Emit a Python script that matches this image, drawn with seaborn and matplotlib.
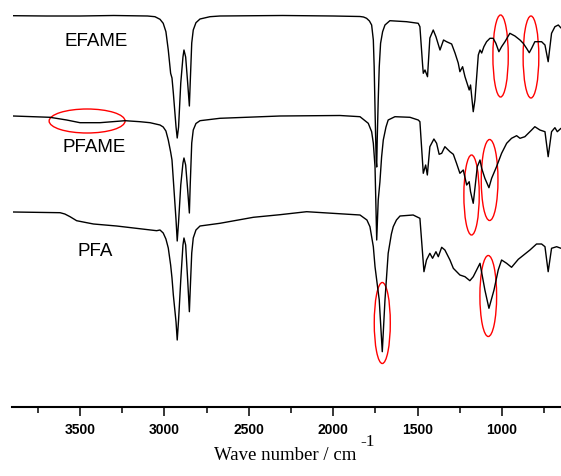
import pandas as pd
import numpy as np
import matplotlib
matplotlib.use('Agg')
import matplotlib.pyplot as plt
from matplotlib.patches import Ellipse
import seaborn as sns

# spectra: (wavenumber, relative transmittance)
efame = [(3900, 100.3), (3700, 100), (3500, 100), (3300, 100.5), (3100, 100), (3056, 99.3),
         (3026, 96.7), (3007, 92.7), (2991, 84.3), (2977, 66), (2963, 42.7), (2955, 38), (2947, 23),
         (2931, -11), (2924, -22), (2916, -11), (2903, 33), (2890, 59), (2884, 66), (2874, 59),
         (2862, 33), (2852, 10), (2847, 33), (2838, 73), (2829, 86), (2813, 93.3), (2789, 97),
         (2730, 99.3), (2671, 100), (2300, 100.5), (2000, 100), (1841, 99.5), (1820, 99),
         (1802, 97.7), (1785, 95), (1772, 91), (1762, 76), (1757, 49.3), (1751, -1), (1745, -45),
         (1742, -51), (1739, -24), (1733, 16), (1727, 49), (1719, 72.7), (1707, 84.3), (1693, 91),
         (1664, 95.3), (1565, 94.3), (1496, 92.7), (1486, 89.3),
         (1470, 51), (1466, 42.7), (1456, 46), (1441, 39.3), (1427, 78), (1407, 86), (1391, 79.3),
         (1367, 66), (1346, 76), (1328, 74.3), (1298, 72), (1278, 63), (1259, 53), (1249, 44.3),
         (1233, 49.3), (1219, 39.3), (1200, 29.3), (1194, 26), (1186, 31), (1170, 4.3), (1160, 16),
         (1140, 61), (1130, 66), (1120, 63), (1107, 69.3), (1091, 74.3), (1071, 77.7), (1052, 77.7),
         (1036, 72.7), (1018, 64.3), (1002, 69.3), (982, 74.3), (953, 82.7), (923, 80), (893, 76),
         (874, 72.7), (854, 67.7), (838, 63.3), (824, 67.7), (805, 74.3), (765, 74.3), (745, 71),
         (726, 54.3), (706, 82.7), (686, 89.3), (666, 91), (650, 88)]

pfame = [(3897, 100), (3678, 98.7), (3579, 96), (3500, 93.3), (3382, 93.3), (3233, 95.3),
         (3145, 94.3), (3085, 93.3), (3026, 91), (3007, 89), (2991, 85), (2977, 76), (2963, 64),
         (2955, 56), (2947, 36), (2931, -4), (2924, -25), (2916, -6), (2903, 31), (2890, 53),
         (2884, 58), (2874, 51), (2862, 26), (2852, 3), (2847, 31), (2838, 73), (2829, 86),
         (2813, 92.5), (2789, 95.3), (2671, 97.7),
         (2315, 100), (1960, 100.5), (1841, 99.3), (1792, 92.7), (1772, 84.3), (1762, 72.7),
         (1752, 49.3), (1742, -24), (1733, 16), (1723, 34), (1713, 59), (1703, 76), (1687, 89),
         (1674, 96), (1634, 99.3), (1545, 98.7),
         (1496, 96), (1486, 94.3), (1466, 42.7), (1452, 51), (1442, 41), (1427, 69.3), (1403, 77),
         (1387, 72.7), (1372, 61.7), (1357, 62.7), (1338, 69.3), (1308, 64.3), (1288, 61.7),
         (1269, 52.7), (1249, 42.7), (1229, 46), (1209, 31), (1194, 34.3), (1186, 24.3),
         (1170, 12.7), (1160, 27.7), (1146, 49.3), (1130, 56), (1120, 47.7), (1101, 37.7),
         (1077, 28.3), (1061, 37.7), (1032, 49.3), (1002, 62.7), (972, 72.7), (943, 77.7),
         (913, 80.3), (893, 77.7), (864, 79.3), (824, 86), (805, 89.3), (775, 86), (745, 84.3),
         (726, 59.3), (706, 84.3), (686, 88.3), (672, 84.3), (650, 87.7)]

pfa = [(3897, 100), (3618, 99.3), (3590, 98), (3559, 95.3), (3520, 91.3), (3460, 89.3),
       (3420, 88), (3283, 86), (3046, 81.3), (3026, 82), (3007, 79), (2991, 73), (2977, 64),
       (2963, 47), (2955, 34), (2947, 17), (2931, -10), (2924, -28), (2916, -8), (2903, 32),
       (2890, 67), (2884, 74), (2874, 67), (2862, 32), (2852, 0.3), (2847, 22), (2838, 59),
       (2829, 74), (2813, 82), (2789, 86), (2671, 88.7), (2473, 94.7), (2315, 97.3), (2157, 100.3),
       (1841, 97), (1800, 92), (1782, 85.3), (1762, 65.3), (1752, 45.3), (1727, 12), (1709, -39.7),
       (1693, 12), (1674, 58.7), (1655, 78), (1644, 85.3), (1625, 92), (1604, 96), (1526, 97),
       (1486, 93.7), (1462, 40.3), (1447, 52), (1427, 58.7),
       (1411, 53.7), (1391, 60.3), (1377, 55.3), (1357, 64.7), (1338, 62), (1308, 52), (1288, 43.7),
       (1249, 37), (1219, 35.3), (1190, 31.3), (1170, 35.3), (1130, 48.7), (1101, 22), (1077, 3.7),
       (1047, 22), (1022, 42), (1002, 52), (972, 48.7), (943, 44.7), (903, 52.7), (834, 62),
       (795, 68), (765, 68), (745, 65.3), (726, 40.3), (706, 63.7), (676, 65.3), (650, 63.7)]

samples = ['EFAME', 'PFAME', 'PFA']
offsets = [291, 191, 95]
label_pos = [(3405, 366), (3417, 259), (3408, 155)]

# marked bands: (wavenumber, level, width in cm-1, height)
marks = [(3458, 286, 450, 24), (1008, 351, 91, 82), (828, 350, 93, 82),
         (1180, 212, 91, 80), (1073, 227, 99, 81), (1709, 84, 95, 81), (1081, 111, 99, 81)]

# build long frame
frames = []
for name, spec, off in zip(samples, [efame, pfame, pfa], offsets):
    d = pd.DataFrame(spec, columns=['wavenumber', 'T'])
    d['signal'] = d['T'] + off
    d['sample'] = name
    frames.append(d)
df = pd.concat(frames, ignore_index=True)

sns.set_style('ticks')
plt.rcParams['font.family'] = ['Liberation Sans', 'DejaVu Sans']
plt.rcParams['text.color'] = 'black'
plt.rcParams['xtick.color'] = 'black'
plt.rcParams['axes.edgecolor'] = 'black'

fig = plt.figure(figsize=(5.61, 4.76), dpi=100)
ax = fig.add_axes([12.5 / 561, 1 - 407 / 476, 1 - 12.5 / 561, 407 / 476])

sns.lineplot(data=df, x='wavenumber', y='signal', hue='sample', units='sample', estimator=None,
             palette={s: 'black' for s in samples}, linewidth=1.0, legend=False, ax=ax)

for (wn, lev, w, h) in marks:
    ax.add_patch(Ellipse((wn, lev), w, h, fill=False, edgecolor='red', lw=1.0))

# sample names
for name, (lx, ly) in zip(samples, label_pos):
    ax.text(lx, ly, name, ha='center', va='center', fontsize=13.5, color='black')

ax.set_xlim(3900, 650)
ax.set_ylim(0, 407)
ax.set_xticks([3500, 3000, 2500, 2000, 1500, 1000])
ax.set_xticks([3750, 3250, 2750, 2250, 1750, 1250, 750], minor=True)
ax.set_yticks([])
ax.set_xlabel('')
ax.set_ylabel('')
for s in ['left', 'top', 'right']:
    ax.spines[s].set_visible(False)
ax.spines['bottom'].set_linewidth(1.5)
ax.tick_params(axis='x', which='major', direction='out', length=6.5, width=1.1, labelsize=10, pad=5)
ax.tick_params(axis='x', which='minor', direction='out', length=4, width=1.1)
plt.setp(ax.get_xticklabels(), fontweight='bold', color='black')

fig.text(285.5 / 561, 1 - 455 / 476, 'Wave number / cm', ha='center', va='center',
         family='Liberation Serif', fontsize=13.5, color='black')
fig.text(360 / 561, 1 - 442 / 476, '-1', ha='left', va='center',
         family='Liberation Serif', fontsize=12.5, color='black')

fig.savefig('out.png', dpi=100)
